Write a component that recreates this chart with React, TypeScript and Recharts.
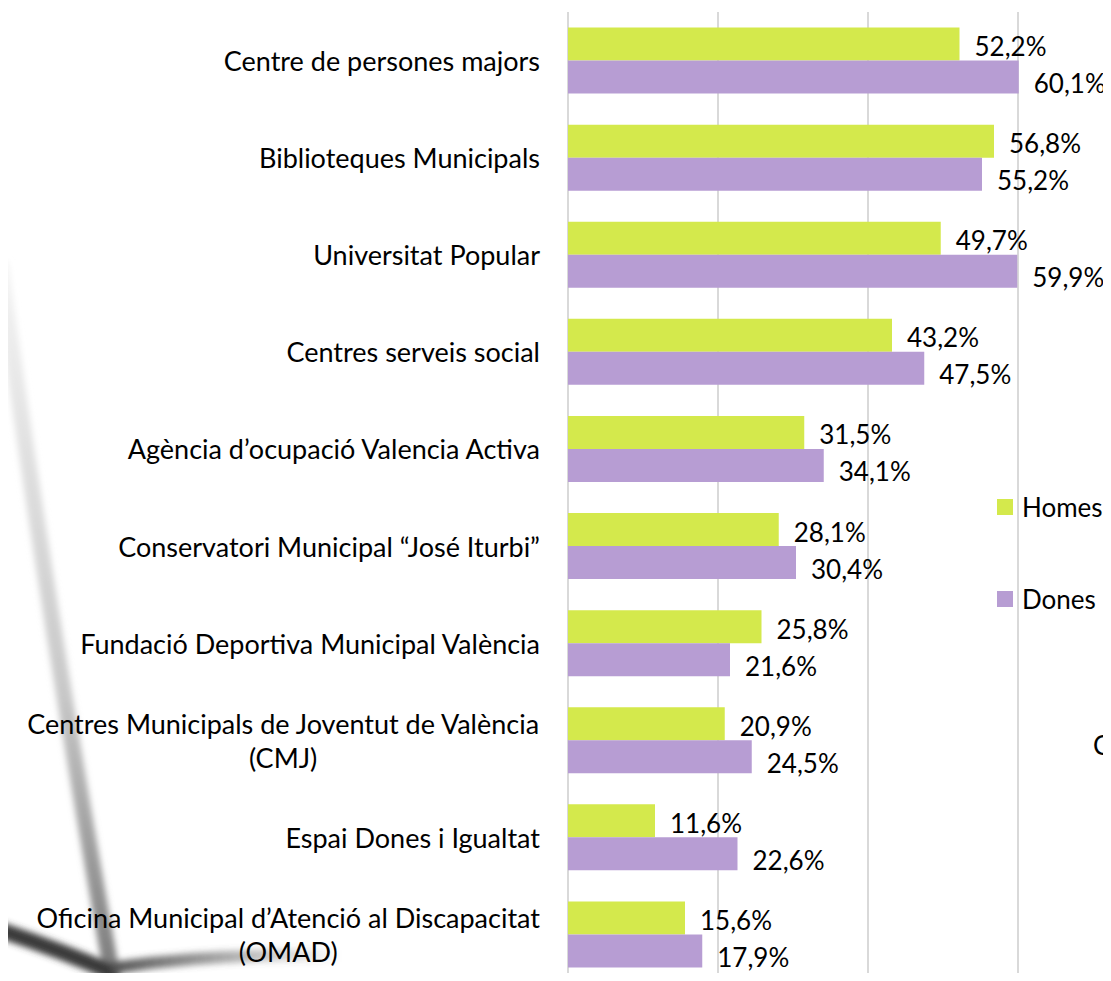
import React from 'react';
import {
  BarChart,
  Bar,
  XAxis,
  YAxis,
  CartesianGrid,
  LabelList,
} from 'recharts';

const categories = [
  'Centre de persones majors',
  'Biblioteques Municipals',
  'Universitat Popular',
  'Centres serveis social',
  'Agència d’ocupació Valencia Activa',
  'Conservatori Municipal “José Iturbi”',
  'Fundació Deportiva Municipal València',
  'Centres Municipals de Joventut de València\n(CMJ)',
  'Espai Dones i Igualtat',
  'Oficina Municipal d’Atenció al Discapacitat\n(OMAD)',
];

const homes = [52.2, 56.8, 49.7, 43.2, 31.5, 28.1, 25.8, 20.9, 11.6, 15.6];
const dones = [60.1, 55.2, 59.9, 47.5, 34.1, 30.4, 21.6, 24.5, 22.6, 17.9];

const xTicks = [0, 20, 40, 60, 80];

const GREEN = '#d4e94c';
const PURPLE = '#b79dd3';
const FONT = 'Lato, "Open Sans", sans-serif';
const FONT_SIZE = 27;
const LABEL_SIZE = 26;

const rows = categories.map((name, i) => ({
  name,
  homes: homes[i],
  dones: dones[i],
}));

let ctx: CanvasRenderingContext2D | null = null;
function textWidth(s: string) {
  if (!ctx) ctx = document.createElement('canvas').getContext('2d');
  if (!ctx) return s.length * FONT_SIZE * 0.5;
  ctx.font = `${FONT_SIZE}px Lato`;
  return ctx.measureText(s).width;
}

function CategoryTick(props: any) {
  const { y, payload } = props;
  const right = 540;
  const lines = String(payload.value).split('\n');
  if (lines.length === 1) {
    return (
      <text x={right} y={y} textAnchor="end" dominantBaseline="central"
        fontSize={FONT_SIZE} fontFamily={FONT} fill="#000">
        {lines[0]}
      </text>
    );
  }
  // two-line labels: second line centred under the first
  const w = textWidth(lines[0]);
  const cx = right - w / 2;
  const lh = 34;
  return (
    <g>
      {lines.map((l, i) => (
        <text key={i} x={cx} y={y + (i - (lines.length - 1) / 2) * lh}
          textAnchor="middle" dominantBaseline="central"
          fontSize={FONT_SIZE} fontFamily={FONT} fill="#000">
          {l}
        </text>
      ))}
    </g>
  );
}

const fmt = (v: number) => v.toFixed(1).replace('.', ',') + '%';

function makeLabel(dy: number) {
  return (props: any) => {
    const { x, y, width, height, value } = props;
    return (
      <text x={x + width + 15} y={y + height / 2 + dy} dominantBaseline="central"
        fontSize={LABEL_SIZE} fontFamily={FONT} fill="#000">
        {fmt(Number(value))}
      </text>
    );
  };
}

function LegendBox() {
  const items = [
    { label: 'Homes', color: GREEN },
    { label: 'Dones', color: PURPLE },
  ];
  return (
    <div style={{ position: 'absolute', left: 997, top: 491, fontFamily: FONT, fontSize: LABEL_SIZE, color: '#000' }}>
      {items.map((it, i) => (
        <div key={it.label}
          style={{ display: 'flex', alignItems: 'center', height: 32, marginTop: i ? 60 : 0, whiteSpace: 'nowrap' }}>
          <span style={{ width: 16, height: 16, background: it.color, marginRight: 9, display: 'inline-block' }} />
          <span>{it.label}</span>
        </div>
      ))}
    </div>
  );
}

function Backdrop() {
  return (
    <svg width={1111} height={981} style={{ position: 'absolute', left: 0, top: 0 }}>
      <defs>
        <linearGradient id="fadeV" x1="0" y1="0" x2="0" y2="1">
          <stop offset="0" stopColor="#f4f4f4" />
          <stop offset="0.6" stopColor="#c8c8c8" />
          <stop offset="1" stopColor="#7a7a7a" />
        </linearGradient>
        <linearGradient id="fadeH" x1="0" y1="0" x2="1" y2="0">
          <stop offset="0" stopColor="#555" />
          <stop offset="1" stopColor="#555" stopOpacity="0" />
        </linearGradient>
        <filter id="soft"><feGaussianBlur stdDeviation="3" /></filter>
      </defs>
      <g filter="url(#soft)" fill="none">
        <path d="M 0 262 Q 45 600 113 981" stroke="url(#fadeV)" strokeWidth={16} />
        <path d="M 0 930 Q 60 950 118 975" stroke="#3a3a3a" strokeWidth={16} />
        <path d="M 112 968 Q 220 952 340 956" stroke="url(#fadeH)" strokeWidth={12} />
      </g>
    </svg>
  );
}

export default function App() {
  return (
    <div style={{ margin: -8, width: 1111, height: 981, overflow: 'hidden', position: 'relative', background: '#fff' }}>
      <Backdrop />
      <div style={{ position: 'absolute', left: 0, top: 0 }}>
        <BarChart
          layout="vertical"
          data={rows}
          width={1300}
          height={990}
          margin={{ top: 12, right: 132, bottom: 7, left: 0 }}
          barCategoryGap="16%"
          barGap={0}
        >
          <CartesianGrid horizontal={false} vertical stroke="#d9d9d9" strokeWidth={2} />
          <XAxis type="number" domain={[0, 80]} ticks={xTicks} hide />
          <YAxis
            type="category"
            dataKey="name"
            width={568}
            axisLine={false}
            tickLine={false}
            interval={0}
            tick={<CategoryTick />}
          />
          <Bar dataKey="homes" name="Homes" fill={GREEN} isAnimationActive={false}>
            <LabelList dataKey="homes" content={makeLabel(2)} />
          </Bar>
          <Bar dataKey="dones" name="Dones" fill={PURPLE} isAnimationActive={false}>
            <LabelList dataKey="dones" content={makeLabel(6)} />
          </Bar>
        </BarChart>
      </div>
      <LegendBox />
      <div style={{ position: 'absolute', left: 1093, top: 728, fontFamily: FONT, fontSize: LABEL_SIZE, color: '#000', lineHeight: '34px' }}>
        C
      </div>
    </div>
  );
}
